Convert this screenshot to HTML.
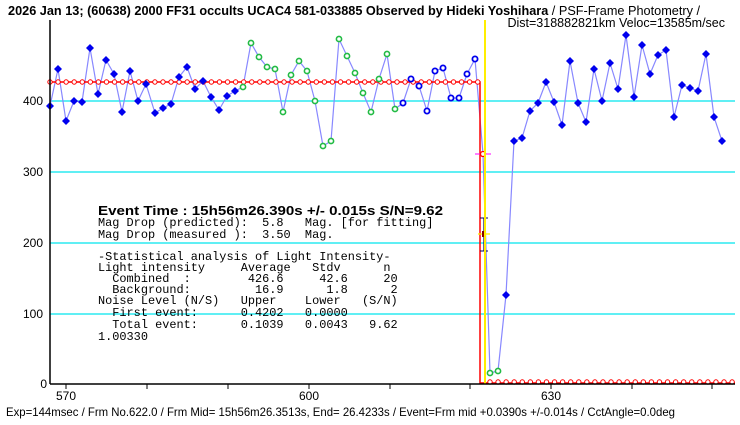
<!DOCTYPE html>
<html><head><meta charset="utf-8"><style>
body{margin:0;background:#fff;}
svg{display:block;}
text{font-family:"Liberation Sans",sans-serif;}
.m text{font-family:"Liberation Mono",monospace;font-size:11.9px;}
</style></head><body>
<svg id="s" width="740" height="425" xmlns="http://www.w3.org/2000/svg">
<rect width="740" height="425" fill="#fff"/>
<g stroke="#00e5ee" stroke-width="1.2">
<line x1="50" y1="101" x2="735" y2="101"/>
<line x1="50" y1="172" x2="735" y2="172"/>
<line x1="50" y1="243" x2="735" y2="243"/>
<line x1="50" y1="314" x2="735" y2="314"/>
</g>
<text x="8" y="15" font-size="13" font-weight="bold" textLength="692" lengthAdjust="spacingAndGlyphs">2026 Jan 13; (60638) 2000 FF31 occults UCAC4 581-033885 Observed by Hideki Yoshihara <tspan font-weight="normal">/ PSF-Frame Photometry /</tspan></text>
<text x="725" y="27" font-size="12.5" text-anchor="end">Dist=318882821km Veloc=13585m/sec</text>
<g id="plot"></g>
<line x1="485" y1="20" x2="485" y2="384" stroke="#ffee00" stroke-width="2"/>
<line x1="50" y1="20" x2="50" y2="384" stroke="#000" stroke-width="1.5"/>
<line x1="50" y1="384" x2="735" y2="384" stroke="#000" stroke-width="1.5"/>
<g font-size="12" text-anchor="end">
<text x="43" y="105">400</text><text x="43" y="176">300</text><text x="43" y="247">200</text><text x="43" y="318">100</text><text x="47" y="388">0</text>
</g>
<g font-size="12" text-anchor="middle">
<text x="66" y="400">570</text><text x="309" y="400">600</text><text x="551" y="400">630</text>
</g>
<g stroke="#000" id="ticks"></g>
<text x="98" y="215" font-weight="bold" font-size="13" textLength="345" lengthAdjust="spacingAndGlyphs">Event Time : 15h56m26.390s  +/- 0.015s  S/N=9.62</text>
<g class="m">
<text x="98" y="226" xml:space="preserve">Mag Drop (predicted):  5.8   Mag. [for fitting]</text>
<text x="98" y="238" xml:space="preserve">Mag Drop (measured ):  3.50  Mag.</text>
<text x="98" y="260" xml:space="preserve">-Statistical analysis of Light Intensity-</text>
<text x="98" y="271" xml:space="preserve">Light intensity     Average   Stdv      n</text>
<text x="98" y="282" xml:space="preserve">  Combined  :        426.6     42.6     20</text>
<text x="98" y="293" xml:space="preserve">  Background:         16.9      1.8      2</text>
<text x="98" y="304" xml:space="preserve">Noise Level (N/S)   Upper    Lower   (S/N)</text>
<text x="98" y="316" xml:space="preserve">  First event:      0.4202   0.0000</text>
<text x="98" y="328" xml:space="preserve">  Total event:      0.1039   0.0043   9.62</text>
<text x="98" y="340" xml:space="preserve">1.00330</text>
</g>
<text x="6" y="416" font-size="12" textLength="669" lengthAdjust="spacingAndGlyphs">Exp=144msec / Frm No.622.0 / Frm Mid= 15h56m26.3513s,  End= 26.4233s / Event=Frm mid +0.0390s +/-0.014s / CctAngle=0.0deg</text>
</svg>
<script>
var NS="http://www.w3.org/2000/svg",g=document.getElementById("plot");
function el(t,a){var e=document.createElementNS(NS,t);for(var k in a)e.setAttribute(k,a[k]);g.appendChild(e);return e;}
var pts=[[50,106],[58,69],[66,121],[74,101],[82,102],[90,48],[98,94],[106,60],[114,74],[122,112],[130,71],[138,101],[146,84],[155,113],[163,108],[171,104],[179,77],[187,67],[195,89],[203,81],[211,97],[219,110],[227,96],[235,91],[243,87],[251,43],[259,57],[267,67],[275,69],[283,112],[291,75],[299,61],[307,71],[315,101],[323,146],[331,141],[339,39],[347,56],[355,73],[363,93],[371,112],[379,79],[387,54],[395,109],[403,103],[411,79],[419,86],[427,111],[435,71],[443,68],[451,98],[459,98],[467,74],[475,59],[483,154],[490,373],[498,371],[506,295],[514,141],[522,138],[530,111],[538,103],[546,82],[554,102],[562,125],[570,61],[578,103],[586,122],[594,69],[602,101],[610,63],[618,89],[626,35],[634,97],[642,45],[650,74],[658,55],[666,50],[674,117],[682,85],[690,88],[698,91],[706,54],[714,117],[722,141]];
el("polyline",{points:pts.map(p=>p.join(",")).join(" "),fill:"none",stroke:"#8888ff","stroke-width":1.2});
el("polyline",{points:"50,82 480,82 480,383 487,383 735,383",fill:"none",stroke:"#ff0000","stroke-width":1.5});
for(var x=50;x<479;x+=8.07)el("circle",{cx:x,cy:82,r:2.2,fill:"#fff",stroke:"#ff0000","stroke-width":1});
for(var x=490;x<735;x+=8.07)el("circle",{cx:x,cy:382,r:2.2,fill:"#fff",stroke:"#ff0000","stroke-width":1});
pts.forEach(function(p,i){var x=p[0],y=p[1];
 if(x==483){el("line",{x1:475,y1:154,x2:491,y2:154,stroke:"#ff00ff"});el("circle",{cx:x,cy:y,r:2.5,fill:"#fff",stroke:"#ff0000","stroke-width":1.3});return;}
 if((x>=243&&x<=395)||x==490||x==498){el("circle",{cx:x,cy:y,r:2.6,fill:"#fff",stroke:"#22bb44","stroke-width":1.6});}
 else if(x>=403&&x<=475){el("circle",{cx:x,cy:y,r:2.6,fill:"#fff",stroke:"#0000ee","stroke-width":1.8});}
 else el("path",{d:"M"+x+","+(y-4)+" L"+(x+4)+","+y+" L"+x+","+(y+4)+" L"+(x-4)+","+y+"Z",fill:"#0000ee"});
});
el("line",{x1:484,y1:218,x2:484,y2:251,stroke:"#000066","stroke-width":1.2});
el("line",{x1:480,y1:218,x2:488,y2:218,stroke:"#000066"});
el("line",{x1:480,y1:251,x2:488,y2:251,stroke:"#000066"});
el("line",{x1:478,y1:234,x2:490,y2:234,stroke:"#ffee00","stroke-width":1.3});
el("rect",{x:482,y:231,width:4,height:6,fill:"#880000"});
var t=document.getElementById("ticks");
[66,147,228,309,390,470,551,632,712].forEach(function(x){var l=document.createElementNS(NS,"line");l.setAttribute("x1",x);l.setAttribute("x2",x);l.setAttribute("y1",384);l.setAttribute("y2",389);t.appendChild(l);});
</script>
</body></html>
